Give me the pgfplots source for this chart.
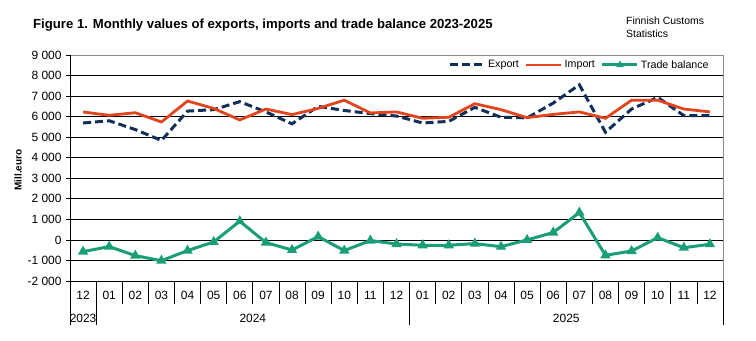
\documentclass[border=0pt]{standalone}
\usepackage{fontspec}
\setmainfont{Liberation Sans}
\usepackage{pgfplots}
\pgfplotsset{compat=1.18}
\definecolor{expc}{HTML}{10305A}
\definecolor{impc}{HTML}{E2451E}
\definecolor{balc}{HTML}{1A9E77}
\definecolor{framec}{HTML}{8C8C8C}
\pgfplotstableread{
i exp imp bal
0 5690 6226 -570
1 5800 6065 -325
2 5370 6190 -765
3 4840 5740 -1010
4 6270 6760 -520
5 6340 6400 -100
6 6730 5840 910
7 6230 6370 -130
8 5650 6100 -490
9 6500 6400 160
10 6300 6800 -520
11 6150 6180 -30
12 6030 6230 -200
13 5690 5920 -260
14 5770 5970 -260
15 6450 6630 -180
16 5970 6340 -330
17 5940 5950 0
18 6660 6110 360
19 7550 6230 1330
20 5240 5920 -750
21 6370 6800 -540
22 6940 6800 110
23 6050 6370 -380
24 6050 6230 -210
}\datatable
\begin{document}
\begin{tikzpicture}[x=1bp,y=1bp]
\path[use as bounding box] (0,0) rectangle (756,340);
\node[anchor=base west, inner sep=0, font=\bfseries\fontsize{13.2}{15}\selectfont] at (33,312) {Figure 1. Monthly values of exports, imports and trade balance 2023-2025};
\node[anchor=base west, inner sep=0, font=\fontsize{10.5}{13}\selectfont] at (626,316) {Finnish Customs};
\node[anchor=base west, inner sep=0, font=\fontsize{10.5}{13}\selectfont] at (626,303) {Statistics};
\node[rotate=90, inner sep=0, font=\bfseries\fontsize{10}{12}\selectfont] at (18,170) {Mill.euro};
\begin{axis}[
  at={(70bp,59bp)}, anchor=south west, scale only axis,
  width=653bp, height=226bp,
  xmin=-0.5, xmax=24.5, ymin=-2000, ymax=9000,
  clip=false,
  axis line style={framec, line width=0.75bp},
  ytick={-2000,-1000,...,9000},
  yticklabels={-2 000,-1 000,0,1 000,2 000,3 000,4 000,5 000,6 000,7 000,8 000,9 000},
  ymajorgrids, grid style={black, line width=0.75bp},
  ytick pos=left, tick align=outside, major tick length=4bp,
  y tick style={black, line width=0.75bp},
  yticklabel style={xshift=-1bp},
  xtick={0,...,24},
  xticklabels={12,01,02,03,04,05,06,07,08,09,10,11,12,01,02,03,04,05,06,07,08,09,10,11,12},
  x tick style={draw=none},
  xtick pos=lower,
  ticklabel style={font=\fontsize{12}{14}\selectfont},
  xticklabel style={anchor=center, yshift=-10bp},
  legend columns=3,
  legend style={draw=none, fill=none, at={(rel axis cs:0.986,0.956)}, anchor=east,
    font=\fontsize{10.7}{12}\selectfont,
    /tikz/every even column/.append style={column sep=4bp},
    /tikz/every odd column/.append style={column sep=0bp}},
  legend image code/.code={\draw[mark repeat=2,mark phase=2,#1] plot coordinates {(0bp,0bp) (17.5bp,0bp) (35bp,0bp)};},
  legend image post style={mark size=1.5bp},
]
\addplot[expc, line width=3bp, dash pattern=on 8bp off 4bp, no markers] table[x=i,y=exp]{\datatable};
\addlegendentry{Export}
\addplot[impc, line width=2.8bp, no markers] table[x=i,y=imp]{\datatable};
\addlegendentry{Import}
\addplot[balc, line width=3bp, mark=triangle*, mark size=3bp, mark options={solid}] table[x=i,y=bal]{\datatable};
\addlegendentry{Trade balance}
\draw[black, line width=0.75bp] (rel axis cs:0,0) -- (rel axis cs:1,0);
\draw[black, line width=0.75bp] (rel axis cs:0,0) -- (rel axis cs:0,1);
\pgfplotsinvokeforeach{1.5,2.5,3.5,4.5,5.5,6.5,7.5,8.5,9.5,10.5,11.5,13.5,14.5,15.5,16.5,17.5,18.5,19.5,20.5,21.5,22.5,23.5}{
  \draw[black, line width=0.75bp] (axis cs:#1,-2000) -- ++(0bp,-23bp);
}
\pgfplotsinvokeforeach{-0.5,0.5,12.5,24.5}{
  \draw[black, line width=0.75bp] (axis cs:#1,-2000) -- ++(0bp,-44bp);
}
\node[font=\fontsize{12}{14}\selectfont] at ([yshift=-37bp]axis cs:0,-2000) {2023};
\node[font=\fontsize{12}{14}\selectfont] at ([yshift=-37bp]axis cs:6.5,-2000) {2024};
\node[font=\fontsize{12}{14}\selectfont] at ([yshift=-37bp]axis cs:18.5,-2000) {2025};
\end{axis}
\end{tikzpicture}
\end{document}
